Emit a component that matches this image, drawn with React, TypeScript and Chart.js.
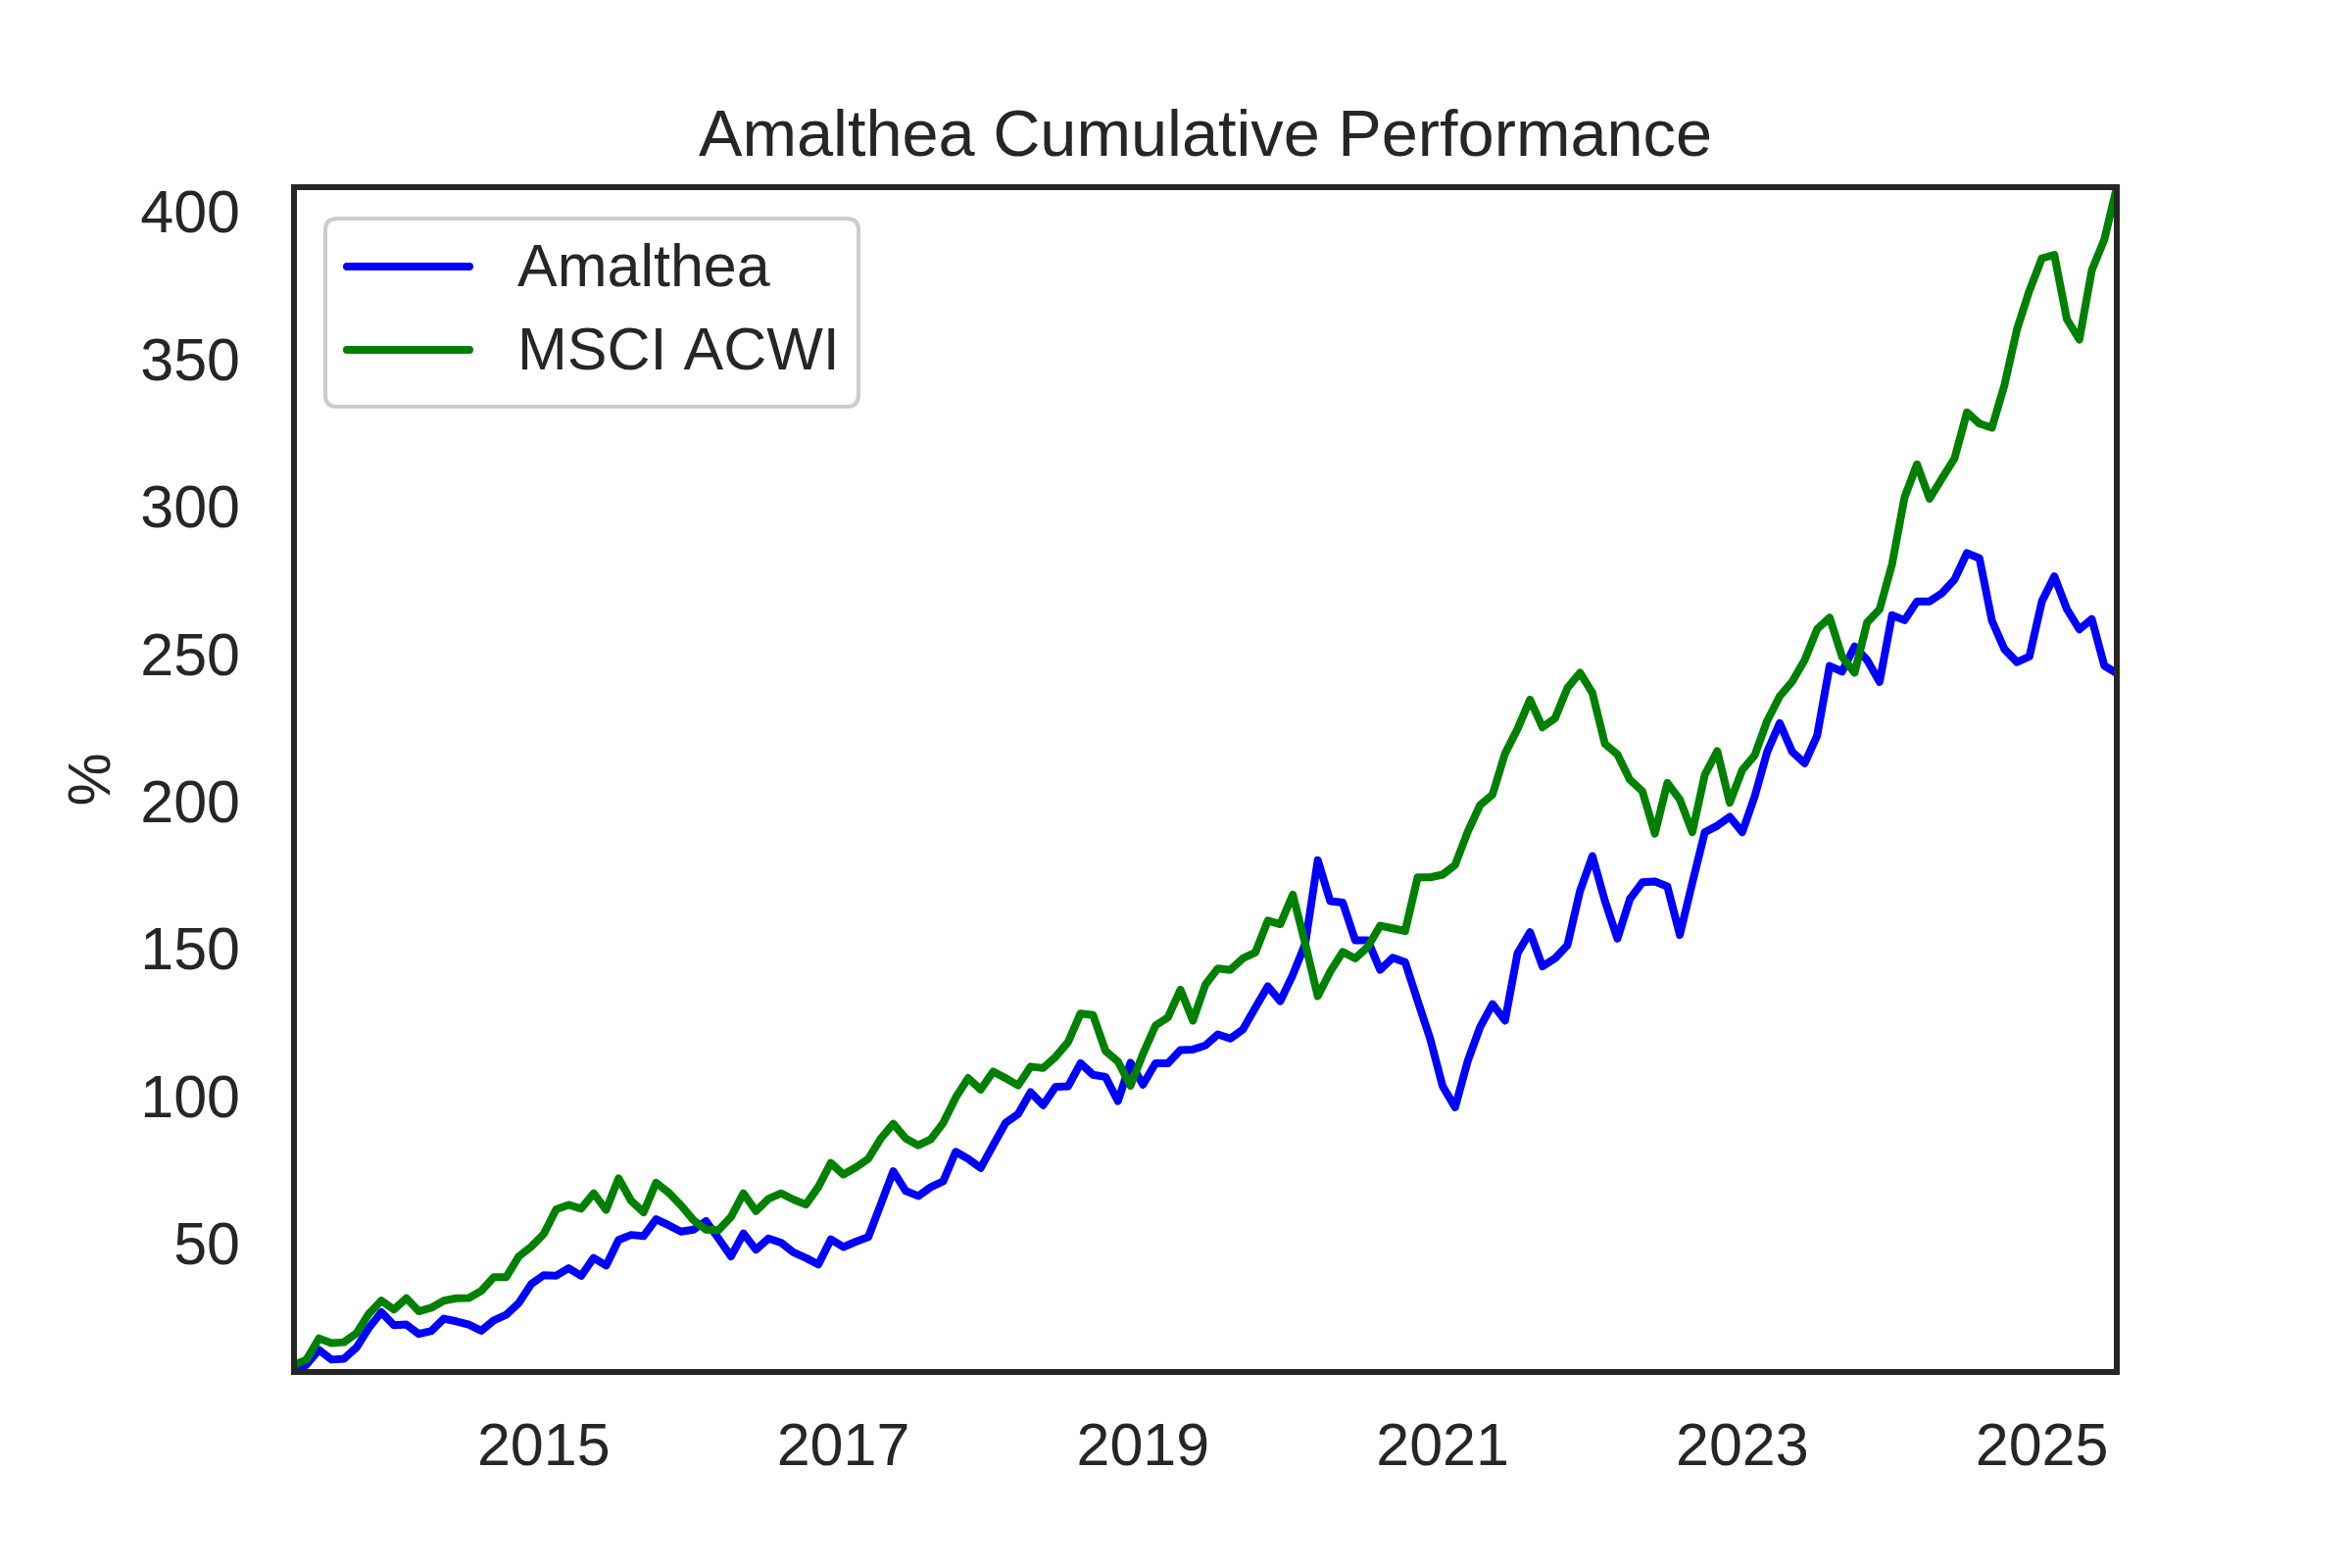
import React, { useEffect, useRef } from "react";
import { Chart, registerables } from "chart.js";

Chart.register(...registerables);

const TITLE = "Amalthea Cumulative Performance";
const Y_LABEL = "%";
const START_YEAR = 2013;
const START_MONTH = 5;
const seriesNames = ["Amalthea", "MSCI ACWI"];
const seriesColors = ["#0000ff", "#008000"];

const amalthea = [
  6.6, 9.1, 14.1, 10.8, 11.1, 14.9, 21.6, 26.9, 22.5, 22.7,
  19.5, 20.5, 24.7, 23.8, 22.7, 20.6, 24.1, 26.0, 30.0, 36.4,
  39.4, 39.3, 41.8, 39.2, 45.3, 42.7, 51.4, 53.1, 52.7, 58.4,
  56.4, 54.2, 54.9, 57.8, 51.9, 45.8, 53.6, 48.1, 51.9, 50.5,
  47.2, 45.3, 43.1, 51.6, 49.0, 50.8, 52.4, 63.5, 74.7, 68.0,
  66.3, 69.3, 71.3, 81.3, 78.9, 75.8, 83.5, 91.1, 94.1, 101.5,
  97.1, 103.3, 103.5, 111.3, 107.4, 106.7, 98.5, 111.5, 104.1, 111.3,
  111.3, 115.8, 116.0, 117.4, 121.1, 119.7, 122.8, 130.2, 137.4, 132.4,
  141.3, 151.9, 180.2, 166.3, 165.8, 153.0, 153.0, 143.0, 147.1, 145.6,
  132.5, 119.7, 103.6, 96.4, 111.9, 123.6, 131.4, 125.8, 148.6, 155.8,
  144.2, 146.9, 151.4, 169.7, 181.6, 166.4, 153.6, 167.0, 172.7, 173.0,
  171.3, 154.9, 172.5, 189.7, 191.9, 194.9, 189.7, 201.9, 217.0, 226.7,
  217.0, 213.1, 222.5, 246.1, 244.2, 252.7, 248.1, 240.7, 263.3, 261.6,
  268.0, 268.0, 270.8, 275.4, 284.4, 282.6, 261.4, 251.8, 247.4, 249.3,
  268.0, 276.5, 265.4, 258.5, 262.0, 246.2, 243.6,
];

const msciAcwi = [
  9.0, 10.8, 18.0, 16.4, 16.7, 19.7, 26.4, 30.8, 27.8, 31.6,
  27.2, 28.4, 30.8, 31.6, 31.7, 34.1, 38.8, 38.8, 45.8, 49.1,
  53.4, 61.8, 63.3, 62.0, 67.2, 61.6, 72.3, 64.7, 60.8, 70.8,
  67.5, 63.1, 58.1, 54.9, 54.7, 59.2, 67.2, 61.2, 65.3, 67.2,
  65.1, 63.4, 69.4, 77.5, 73.6, 76.0, 78.9, 85.8, 90.8, 85.8,
  83.5, 85.5, 91.1, 99.7, 106.3, 102.4, 108.5, 106.3, 103.8, 110.2,
  109.7, 113.5, 118.5, 128.2, 127.7, 115.5, 111.9, 103.7, 114.5, 124.1,
  126.9, 136.3, 125.8, 138.0, 143.5, 143.0, 146.9, 148.9, 159.7, 158.5,
  168.5, 151.9, 134.1, 142.4, 149.1, 146.9, 150.8, 158.0, 157.1, 156.2,
  174.4, 174.4, 175.3, 178.6, 189.7, 198.9, 202.5, 216.4, 224.7, 234.7,
  225.3, 228.3, 238.6, 243.8, 236.9, 219.7, 216.1, 207.5, 203.6, 189.2,
  206.4, 200.8, 189.7, 209.2, 217.2, 199.7, 210.8, 215.8, 227.5, 235.8,
  240.8, 248.1, 258.6, 262.5, 249.2, 243.8, 260.8, 265.3, 280.6, 303.3,
  314.5, 302.8, 309.7, 316.5, 332.1, 328.3, 326.9, 341.3, 360.2, 373.4,
  384.4, 385.5, 363.7, 356.8, 380.3, 390.7, 408.5,
];

const xTickYears = [2015, 2017, 2019, 2021, 2023, 2025];
const yTickValues = [50, 100, 150, 200, 250, 300, 350, 400];

const monthLabels = amalthea.map((_, i) => {
  const m = START_MONTH - 1 + i;
  return `${START_YEAR + Math.floor(m / 12)}-${String((m % 12) + 1).padStart(2, "0")}`;
});
const toYear = (label: string) => {
  const [y, m] = label.split("-").map(Number);
  return y + (m - 1) / 12;
};
const xs = monthLabels.map(toYear);

const FONT = '"Liberation Sans", Arial, Helvetica, sans-serif';
const TEXT = "#262626";

const decorPlugin = {
  id: "decor",
  afterDatasetsDraw(chart: any) {
    const { ctx, chartArea: a } = chart;
    ctx.save();
    // frame
    ctx.strokeStyle = TEXT;
    ctx.lineWidth = 6;
    ctx.strokeRect(a.left, a.top, a.right - a.left, a.bottom - a.top);

    // title
    ctx.fillStyle = TEXT;
    ctx.font = `66.7px ${FONT}`;
    ctx.textAlign = "center";
    ctx.textBaseline = "middle";
    ctx.fillText(TITLE, (a.left + a.right) / 2, a.top - 50);

    // legend
    const bx = a.left + 32;
    const by = a.top + 32;
    const bw = 544;
    const bh = 192;
    const r = 12;
    ctx.beginPath();
    ctx.moveTo(bx + r, by);
    ctx.lineTo(bx + bw - r, by);
    ctx.quadraticCurveTo(bx + bw, by, bx + bw, by + r);
    ctx.lineTo(bx + bw, by + bh - r);
    ctx.quadraticCurveTo(bx + bw, by + bh, bx + bw - r, by + bh);
    ctx.lineTo(bx + r, by + bh);
    ctx.quadraticCurveTo(bx, by + bh, bx, by + bh - r);
    ctx.lineTo(bx, by + r);
    ctx.quadraticCurveTo(bx, by, bx + r, by);
    ctx.closePath();
    ctx.fillStyle = "rgba(255,255,255,0.8)";
    ctx.fill();
    ctx.strokeStyle = "#cccccc";
    ctx.lineWidth = 4;
    ctx.stroke();

    const ds = chart.data.datasets;
    ds.forEach((d: any, i: number) => {
      const y = by + 49 + i * 85;
      ctx.beginPath();
      ctx.strokeStyle = d.borderColor;
      ctx.lineWidth = 8;
      ctx.lineCap = "round";
      ctx.moveTo(bx + 22, y);
      ctx.lineTo(bx + 147, y);
      ctx.stroke();
      ctx.fillStyle = TEXT;
      ctx.font = `61px ${FONT}`;
      ctx.textAlign = "left";
      ctx.textBaseline = "middle";
      ctx.fillText(d.label, bx + 196, y + 3);
    });
    ctx.restore();
  },
};

export default function App() {
  const ref = useRef<HTMLCanvasElement | null>(null);

  useEffect(() => {
    document.body.style.margin = "0";
    const canvas = ref.current;
    if (!canvas) return;
    const all = [...amalthea, ...msciAcwi];
    const yMin = Math.min(...all);
    const yMax = Math.max(...all);

    const chart = new Chart(canvas, {
      type: "line",
      data: {
        datasets: [
          {
            label: seriesNames[0],
            data: xs.map((x, i) => ({ x, y: amalthea[i] })),
            borderColor: seriesColors[0],
            backgroundColor: seriesColors[0],
            borderWidth: 8,
            pointRadius: 0,
            tension: 0,
            borderCapStyle: "round",
            borderJoinStyle: "round",
            clip: 0,
            order: 2,
          },
          {
            label: seriesNames[1],
            data: xs.map((x, i) => ({ x, y: msciAcwi[i] })),
            borderColor: seriesColors[1],
            backgroundColor: seriesColors[1],
            borderWidth: 8,
            pointRadius: 0,
            tension: 0,
            borderCapStyle: "round",
            borderJoinStyle: "round",
            clip: 0,
            order: 1,
          },
        ],
      },
      options: {
        animation: false,
        responsive: false,
        devicePixelRatio: 1,
        events: [],
        layout: { padding: { top: 191, left: 44, right: 240, bottom: 50 } },
        plugins: {
          legend: { display: false },
          title: { display: false },
          tooltip: { enabled: false },
        },
        scales: {
          x: {
            type: "linear",
            min: xs[0],
            max: xs[xs.length - 1],
            border: { display: false },
            grid: {
              display: true,
              drawOnChartArea: false,
              drawTicks: true,
              tickLength: 42,
              color: "rgba(0,0,0,0)",
            },
            afterBuildTicks: (scale: any) => {
              scale.ticks = xTickYears.map((v) => ({ value: v }));
            },
            afterFit: (scale: any) => {
              scale.height = 150;
            },
            ticks: {
              padding: 0,
              autoSkip: false,
              maxRotation: 0,
              color: TEXT,
              font: { size: 61, family: FONT },
              callback: (v: any) => String(v),
            },
          },
          y: {
            type: "linear",
            min: yMin,
            max: yMax,
            border: { display: false },
            grid: {
              display: true,
              drawOnChartArea: false,
              drawTicks: true,
              tickLength: 55,
              color: "rgba(0,0,0,0)",
            },
            afterBuildTicks: (scale: any) => {
              scale.ticks = yTickValues.map((v) => ({ value: v }));
            },
            afterFit: (scale: any) => {
              scale.width = 256;
            },
            title: {
              display: true,
              text: Y_LABEL,
              color: TEXT,
              font: { size: 61, family: FONT },
              padding: { top: 15, bottom: 0 },
            },
            ticks: {
              padding: 0,
              autoSkip: false,
              labelOffset: 4,
              color: TEXT,
              font: { size: 61, family: FONT },
              callback: (v: any) => String(v),
            },
          },
        },
      },
      plugins: [decorPlugin],
    } as any);

    return () => chart.destroy();
  }, []);

  return (
    <div style={{ width: 2400, height: 1600, background: "#fff" }}>
      <canvas ref={ref} width={2400} height={1600} style={{ display: "block", width: 2400, height: 1600 }} />
    </div>
  );
}
